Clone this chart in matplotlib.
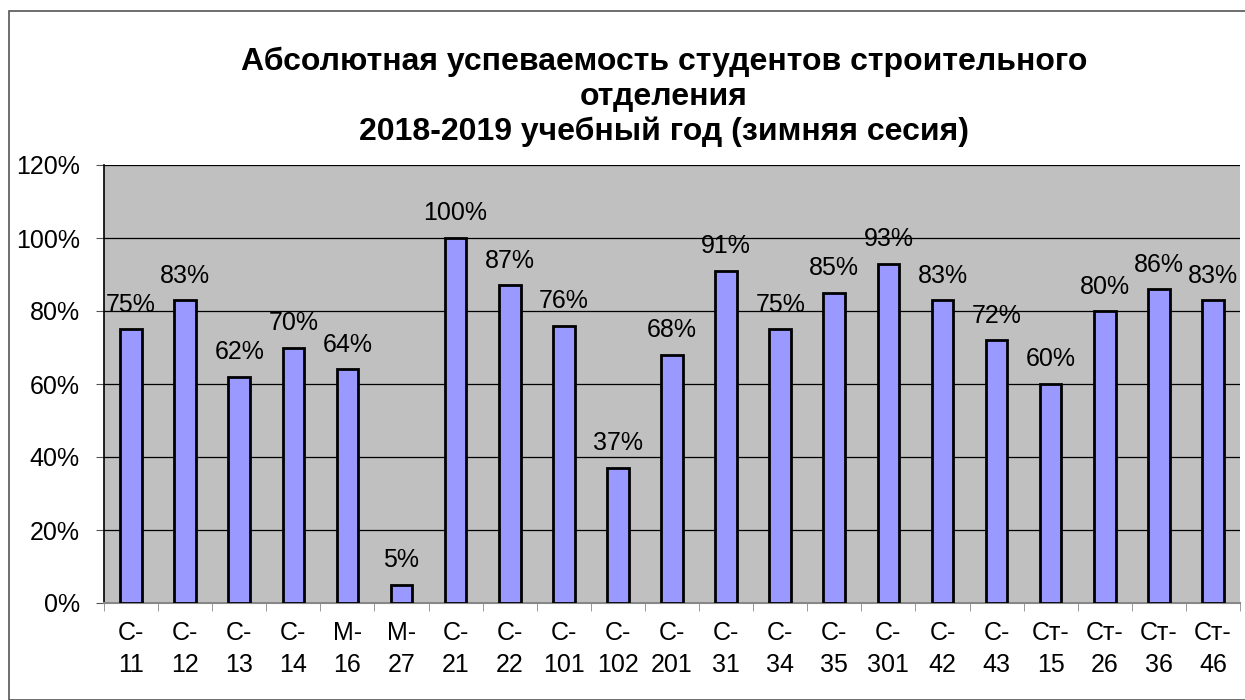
import matplotlib.pyplot as plt
from matplotlib.patches import Rectangle
import numpy as np

groups = ["С-\n11", "С-\n12", "С-\n13", "С-\n14", "М-\n16", "М-\n27", "С-\n21",
          "С-\n22", "С-\n101", "С-\n102", "С-\n201", "С-\n31", "С-\n34", "С-\n35",
          "С-\n301", "С-\n42", "С-\n43", "Ст-\n15", "Ст-\n26", "Ст-\n36", "Ст-\n46"]
success = [75, 83, 62, 70, 64, 5, 100, 87, 76, 37, 68, 91, 75, 85, 93, 83, 72, 60, 80, 86, 83]
y_ticks = [0, 20, 40, 60, 80, 100, 120]

plt.rcParams['font.family'] = ['Liberation Sans', 'DejaVu Sans']

fig = plt.figure(figsize=(12.45, 7), dpi=100)
ax = fig.add_axes([104 / 1245, 97 / 700, 1136 / 1245, 438 / 700])

# рамка всей диаграммы
fig.patches.append(Rectangle((9 / 1245, 0), 1.0, 689 / 700, transform=fig.transFigure,
                             fill=False, edgecolor='#555555', linewidth=1.2))

x = np.arange(len(groups))
ax.set_facecolor('#C0C0C0')
bars = ax.bar(x, success, width=0.4, color='#9999FF', edgecolor='black', linewidth=2, zorder=3)

for xi, v in zip(x, success):
    ax.annotate(f'{v}%', (xi, v), xytext=(0, 9), textcoords='offset points',
                ha='center', va='bottom', fontsize=18, zorder=4, annotation_clip=False)

ax.set_xlim(-0.5, len(groups) - 0.5)
ax.set_ylim(0, 120)
ax.set_yticks(y_ticks)
ax.set_yticklabels([f'{t}%' for t in y_ticks], fontsize=18)
ax.yaxis.grid(True, color='black', linewidth=0.9, zorder=1)
ax.set_axisbelow(True)

ax.set_xticks(x)
ax.set_xticklabels(groups, fontsize=18, linespacing=1.4)
ax.tick_params(axis='x', which='major', length=0, pad=13)
ax.set_xticks(np.arange(len(groups) + 1) - 0.5, minor=True)
ax.tick_params(axis='x', which='minor', length=5.5, color='#888888')
ax.tick_params(axis='y', length=5.5, color='#555555', pad=12)

for s in ['top', 'right']:
    ax.spines[s].set_visible(False)
ax.spines['left'].set_color('black')
ax.spines['left'].set_linewidth(1.2)
ax.spines['bottom'].set_color('#888888')
ax.spines['bottom'].set_linewidth(1.5)

fig.text(664 / 1245, 1 - 97 / 700,
         'Абсолютная успеваемость студентов строительного\nотделения\n2018-2019 учебный год (зимняя сесия)',
         ha='center', va='center', fontsize=23, fontweight='bold', linespacing=1.2)

fig.savefig('out.png', dpi=100)
